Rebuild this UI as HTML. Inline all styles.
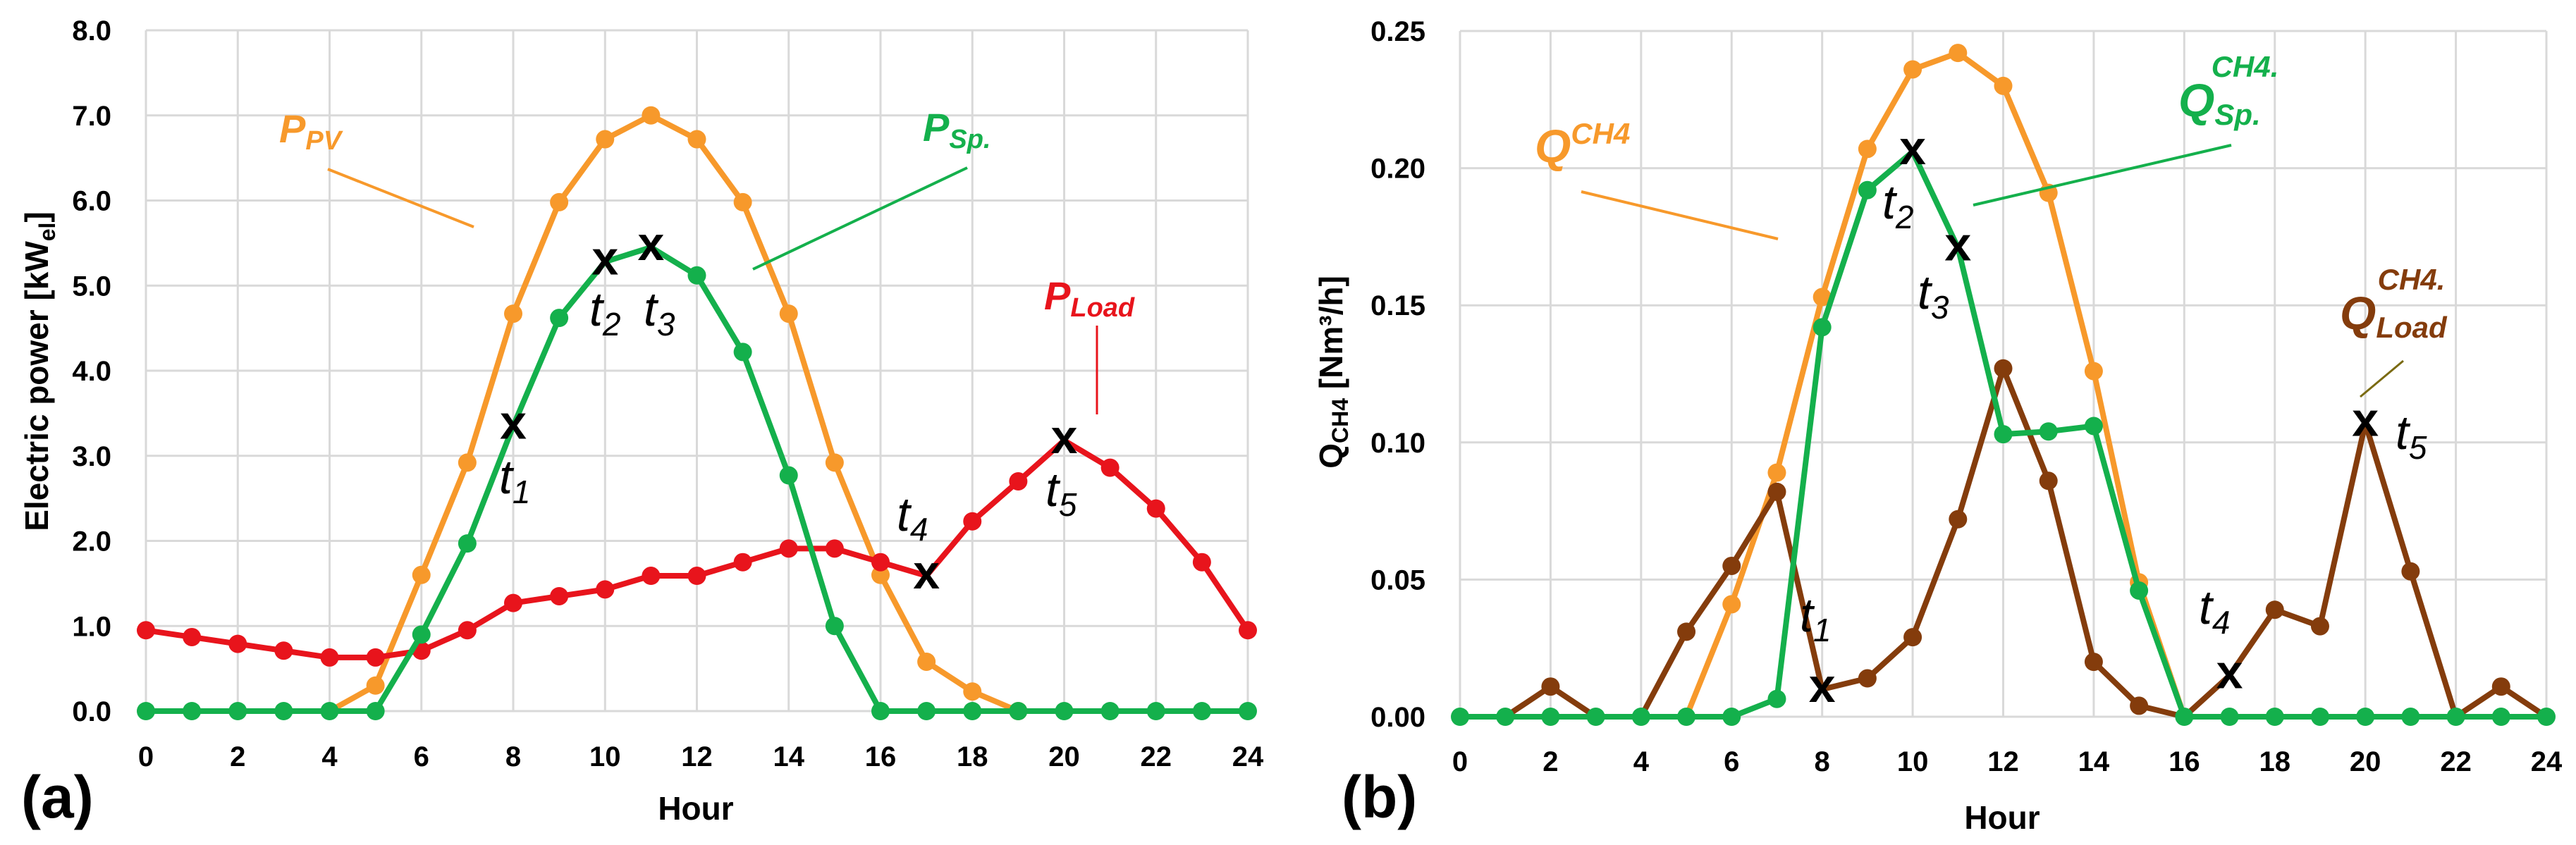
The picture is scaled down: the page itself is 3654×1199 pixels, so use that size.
<!DOCTYPE html>
<html><head><meta charset="utf-8">
<style>
html,body{margin:0;padding:0;background:#fff;}
svg{display:block;font-family:"Liberation Sans",sans-serif;}
.tick{font-weight:bold;font-size:40px;fill:#000;}
.ttl{font-weight:bold;font-size:46px;fill:#000;}
.tl{font-style:italic;font-size:68px;fill:#000;}
.lbl{font-style:italic;font-weight:bold;}
</style></head>
<body>
<svg id="chart" width="3654" height="1199" viewBox="0 0 3654 1199" xmlns="http://www.w3.org/2000/svg">
<g id="pa"></g>
<g id="pb"></g>
<g>
<text x="30" y="1160" font-size="84" font-weight="bold">(a)</text>
<text x="1903" y="1160" font-size="84" font-weight="bold">(b)</text>
<text class="ttl" x="987" y="1163" text-anchor="middle">Hour</text>
<text class="ttl" x="2840" y="1176" text-anchor="middle">Hour</text>
<text class="ttl" transform="translate(68,527) rotate(-90)" text-anchor="middle">Electric power [kW<tspan font-size="32" dy="10">el</tspan><tspan dy="-10">]</tspan></text>
<text class="ttl" transform="translate(1904,528) rotate(-90)" text-anchor="middle">Q<tspan font-size="32" dy="8">CH4</tspan><tspan dy="-8"> [Nm³/h]</tspan></text>

<text class="lbl" x="396" y="202" font-size="56" fill="#f7992b">P<tspan font-size="38" dy="10">PV</tspan></text>
<line x1="465" y1="240" x2="672" y2="322" stroke="#f7992b" stroke-width="4"/>
<text class="lbl" x="1309" y="200" font-size="56" fill="#14b04c">P<tspan font-size="38" dy="10">Sp.</tspan></text>
<line x1="1372" y1="238" x2="1068" y2="382" stroke="#14b04c" stroke-width="4"/>
<text class="lbl" x="1481" y="439" font-size="56" fill="#e8141c">P<tspan font-size="38" dy="10">Load</tspan></text>
<line x1="1556" y1="462" x2="1556" y2="588" stroke="#e8141c" stroke-width="3"/>

<text class="tl" x="708" y="700">t<tspan font-size="46" dy="14">1</tspan></text>
<text class="tl" x="836" y="462">t<tspan font-size="46" dy="14">2</tspan></text>
<text class="tl" x="913" y="462">t<tspan font-size="46" dy="14">3</tspan></text>
<text class="tl" x="1272" y="753">t<tspan font-size="46" dy="14">4</tspan></text>
<text class="tl" x="1483" y="718">t<tspan font-size="46" dy="14">5</tspan></text>

<text class="lbl" x="2177" y="230" font-size="66" fill="#f7992b">Q<tspan font-size="42" dy="-26">CH4</tspan></text>
<line x1="2243" y1="272" x2="2522" y2="339" stroke="#f7992b" stroke-width="4"/>
<text class="lbl" x="3090" y="165" font-size="66" fill="#14b04c">Q<tspan font-size="42" dy="12">Sp.</tspan><tspan font-size="42" dx="-70" dy="-68">CH4.</tspan></text>
<line x1="3165" y1="206" x2="2799" y2="291" stroke="#14b04c" stroke-width="4"/>
<text class="lbl" x="3319" y="467" font-size="66" fill="#843c0c">Q<tspan font-size="42" dy="12">Load</tspan><tspan font-size="42" dx="-98" dy="-68">CH4.</tspan></text>
<line x1="3409" y1="512" x2="3348" y2="563" stroke="#7a6a10" stroke-width="3"/>

<text class="tl" x="2553" y="896">t<tspan font-size="46" dy="14">1</tspan></text>
<text class="tl" x="2670" y="310">t<tspan font-size="46" dy="14">2</tspan></text>
<text class="tl" x="2720" y="438">t<tspan font-size="46" dy="14">3</tspan></text>
<text class="tl" x="3119" y="885">t<tspan font-size="46" dy="14">4</tspan></text>
<text class="tl" x="3398" y="637">t<tspan font-size="46" dy="14">5</tspan></text>
</g>
</svg>
<script>
const hours = [0,1,2,3,4,5,6,7,8,9,10,11,12,13,14,15,16,17,18,19,20,21,22,23,24];
const xTicks = ["0","2","4","6","8","10","12","14","16","18","20","22","24"];
const yTicksA = ["0.0","1.0","2.0","3.0","4.0","5.0","6.0","7.0","8.0"];
const yTicksB = ["0.00","0.05","0.10","0.15","0.20","0.25"];
const pPV   = [null,null,null,null,0,0.3,1.6,2.92,4.67,5.98,6.72,7.0,6.72,5.98,4.67,2.92,1.6,0.58,0.23,0,null,null,null,null,null];
const pSp   = [0,0,0,0,0,0,0.9,1.97,3.35,4.62,5.28,5.45,5.12,4.22,2.77,1.0,0,0,0,0,0,0,0,0,0];
const pLoad = [0.95,0.87,0.79,0.71,0.63,0.63,0.71,0.95,1.27,1.35,1.43,1.59,1.59,1.75,1.91,1.91,1.75,1.59,2.23,2.7,3.18,2.86,2.38,1.75,0.95];
const qCH4  = [null,null,null,null,null,0,0.041,0.089,0.153,0.207,0.236,0.242,0.230,0.191,0.126,0.049,0,null,null,null,null,null,null,null,null];
const qSp   = [0,0,0,0,0,0,0,0.0065,0.142,0.192,0.206,0.171,0.103,0.104,0.106,0.046,0,0,0,0,0,0,0,0,0];
const qLoad = [0,0,0.011,0,0,0.031,0.055,0.082,0.010,0.014,0.029,0.072,0.127,0.086,0.020,0.004,0,0.015,0.039,0.033,0.107,0.053,0,0.011,0];
const xMarksA = {sp:[8,10,11], load:[17,20]};
const xMarksB = {sp:[10,11], load:[8,17,20]};

const NS = "http://www.w3.org/2000/svg";
function mk(tag, parent, attrs){const e=document.createElementNS(NS,tag);for(const k in attrs)e.setAttribute(k,attrs[k]);parent.appendChild(e);return e;}

function panel(g, cfg){
  const sx = h => cfg.x0 + (h/24)*(cfg.x1-cfg.x0);
  const sy = v => cfg.y0 - (v/cfg.ymax)*(cfg.y0-cfg.y1);
  cfg.yTicks.forEach((t,i)=>{
    const v = i*cfg.ystep, y = sy(v);
    const l = mk('line', g, {x1:cfg.x0,x2:cfg.x1,y1:y,y2:y,stroke:'#d9d9d9','stroke-width':3});
    
    
    const tx = mk('text', g, {x:cfg.labRight,y:y+14,'text-anchor':'end',class:'tick'});
    tx.textContent = t;
    
    
  });
  xTicks.forEach(t=>{
    const x = sx(+t);
    const l = mk('line', g, {x1:x,x2:x,y1:cfg.y1,y2:cfg.y0,stroke:'#d9d9d9','stroke-width':3});
    
    
    const tx = mk('text', g, {x:x,y:cfg.xLabY,'text-anchor':'middle',class:'tick'});
    tx.textContent = t;
    
    
  });
  cfg.series.forEach(s=>{
    let d='', pen=false;
    s.data.forEach((v,i)=>{ if(v===null){pen=false;return;} d += (pen?'L':'M')+sx(hours[i])+' '+sy(v)+' '; pen=true; });
    const p = mk('path', g, {d:d,fill:'none',stroke:s.color,'stroke-width':8,'stroke-linejoin':'round'});
    
    
    s.data.forEach((v,i)=>{
      if(v===null) return;
      if(s.xm.indexOf(hours[i])>=0){
        const t = mk('text', g, {x:sx(hours[i]),y:sy(v)+18,'text-anchor':'middle','font-size':68,'font-weight':'bold',fill:'#000'});
        t.textContent='x';
        
        
        return;
      }
      if(s.nodot && s.nodot(i,v)) return;
      const c = mk('circle', g, {cx:sx(hours[i]),cy:sy(v),r:13,fill:s.color});
      
      
    });
  });
}

panel(document.getElementById('pa'), {x0:207,x1:1770,y0:1009,y1:43,ymax:8,ystep:1,yTicks:yTicksA,labRight:158,xLabY:1087,
  series:[
    {name:'p-pv',data:pPV,color:'#f7992b',xm:[],nodot:(i,v)=>v===0&&i<5},
    {name:'p-load',data:pLoad,color:'#e8141c',xm:xMarksA.load},
    {name:'p-sp',data:pSp,color:'#14b04c',xm:xMarksA.sp}
  ]});
panel(document.getElementById('pb'), {x0:2071,x1:3612,y0:1017,y1:44,ymax:0.25,ystep:0.05,yTicks:yTicksB,labRight:2022,xLabY:1094,
  series:[
    {name:'q-ch4',data:qCH4,color:'#f7992b',xm:[],nodot:(i,v)=>v===0},
    {name:'q-load',data:qLoad,color:'#843c0c',xm:xMarksB.load,nodot:(i,v)=>v===0},
    {name:'q-sp',data:qSp,color:'#14b04c',xm:xMarksB.sp}
  ]});
</script>
</body></html>
